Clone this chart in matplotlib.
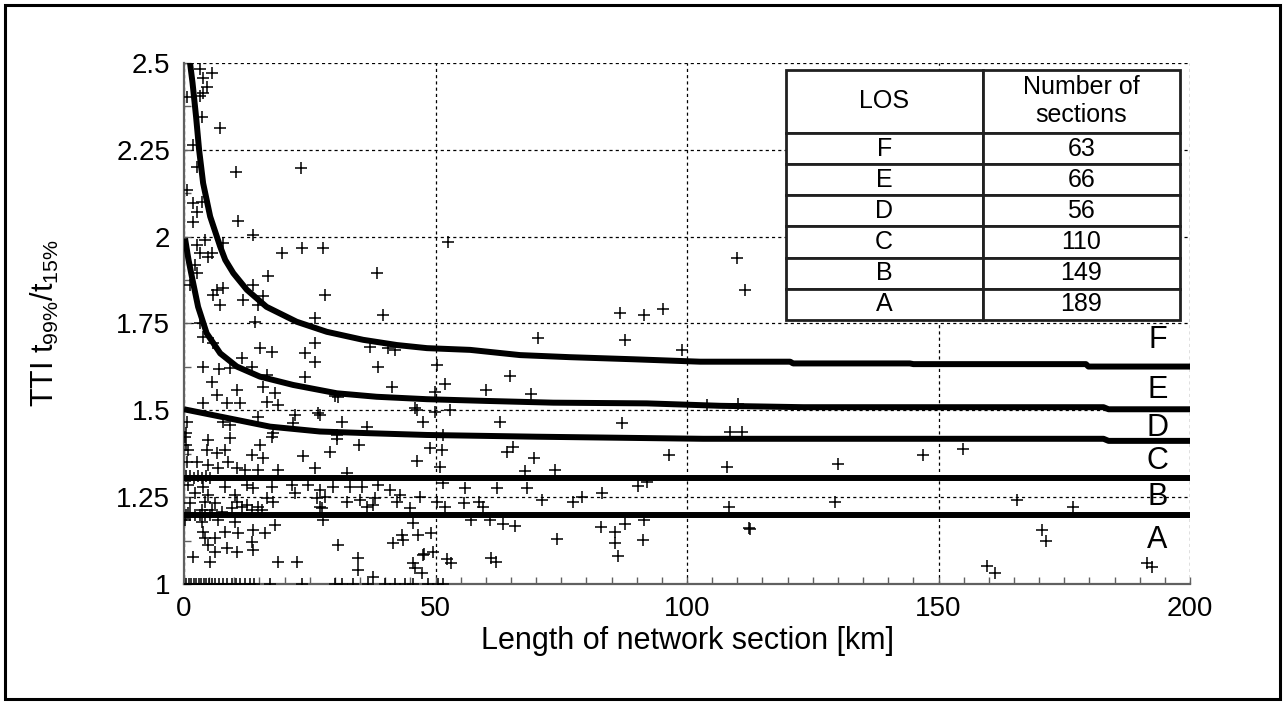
import matplotlib
matplotlib.use("Agg")
import matplotlib.pyplot as plt
from matplotlib.ticker import MultipleLocator
from matplotlib.patches import Rectangle

plt.rcParams["font.family"] = ["Liberation Sans", "DejaVu Sans"]
plt.rcParams["mathtext.fontset"] = "custom"
plt.rcParams["mathtext.rm"] = "Liberation Sans"
plt.rcParams["mathtext.it"] = "Liberation Sans"

# section length [km] / TTI of each network section
sec_len = [
    # upper left part
    3.2, 5.6, 3.8, 4.6, 3.8, 3.2, 0.6, 3.6, 7.2, 1.8, 2.6, 10.3, 23.3, 0.6, 1.8,
    3.6, 2.6, 1.8, 10.7, 13.7, 4.2, 2.6, 3.2, 4.8, 5.6, 7.8, 19.5, 23.5, 27.6,
    38.4, 52.5, 16.7, 2.2, 2.6, 1.2, 13.7, 6.6, 7.8, 5.8, 15.7, 28.0, 7.2, 11.7,
    14.7, 26.0, 39.6, 14.1, 3.2, 3.8, 5.8, 15.1, 17.5, 24.1, 26.0, 37.0, 40.6,
    41.9, 38.6, 26.0, 3.8, 7.0, 9.1, 11.5, 13.5, 16.5, 24.1, 5.6, 15.7, 10.5,
    41.4, 6.6, 18.1, 3.8, 8.5, 11.1, 16.5, 18.7, 22.1, 26.6, 31.4, 36.4, 46.3,
    47.5, 0.6, 7.8, 9.1, 14.7, 17.7, 21.7, 50.3, 49.9, 51.9, 30.0, 30.6, 45.9,
    49.9, 52.9, 27.0, 30.4, 51.5,
    # 45 - 100 km
    86.7, 91.5, 95.2, 70.4, 87.7, 99.0, 64.8, 60.0, 69.0, 62.8, 87.1, 48.9, 51.3,
    64.2, 65.4, 69.6, 50.9, 67.8, 73.8, 96.4, 62.2, 55.9, 68.2, 90.3, 51.5, 58.6,
    55.7, 59.4, 71.2, 77.3, 79.1, 83.1, 92.0, 49.1, 57.1, 60.8, 63.4, 65.8, 74.2,
    82.9, 85.7, 87.7, 91.5, 85.7, 86.3, 91.3, 47.7, 49.5, 52.3, 53.1, 61.0, 62.0,
    # beyond 100 km
    109.9, 111.5, 104.0, 110.1, 108.5, 110.9, 108.0, 130.0, 146.9, 154.9, 108.3,
    129.4, 165.6, 176.7, 112.3, 112.6, 170.6, 171.4, 159.6, 161.2, 191.5, 192.4,
    # 25 - 55 km, lower part
    30.4, 34.8, 29.0, 46.3, 32.4, 29.6, 33.0, 35.4, 38.6, 41.0, 42.9, 46.9, 28.0,
    32.4, 35.0, 38.0, 42.3, 44.9, 50.3, 51.9, 27.0, 36.4, 37.6, 27.6, 45.5, 43.3,
    46.5, 41.6, 43.5, 30.6, 47.5, 34.6, 34.6, 45.5, 45.9, 47.3, 37.6,
    # 0 - 30 km, lower part
    0.2, 4.8, 9.1, 15.1, 17.5, 0.8, 4.6, 6.6, 8.2, 13.5, 15.7, 23.7, 0.6, 2.6,
    4.8, 6.8, 8.7, 10.5, 12.1, 14.7, 18.7, 26.0, 0.4, 1.2, 2.0, 2.8, 3.6, 4.4,
    5.2, 0.8, 3.8, 8.2, 12.5, 13.7, 17.5, 21.5, 24.7, 27.0, 2.2, 4.8, 10.1, 16.5,
    22.1, 26.4, 1.2, 4.2, 6.2, 10.5, 12.5, 14.7, 17.7, 0.8, 3.6, 5.6, 7.6, 9.5,
    11.5, 13.5, 15.5, 27.4, 0.4, 1.2, 2.2, 3.2, 4.2, 5.2, 0.2, 3.6, 6.8, 10.1,
    18.1, 3.8, 8.2, 10.7, 13.7, 16.1, 4.2, 6.2, 4.8, 8.5, 10.5, 13.7, 13.5, 6.2,
    1.8, 5.2, 18.7, 22.5, 0.4, 0.4,
    # TTI = 1
    0.4, 0.9, 1.4, 1.9, 2.4, 2.9, 3.4, 3.9, 4.4, 5.0, 5.6, 6.2, 7.0, 7.8, 8.6,
    9.5, 10.4, 11.2, 12.2, 13.2, 14.0, 17.0, 23.5, 30.0, 31.5, 33.6, 36.5, 40.0,
    42.0, 44.0, 45.5, 48.5, 50.5, 51.5,
]
tti = [
    # upper left part
    2.483, 2.471, 2.457, 2.431, 2.414, 2.405, 2.402, 2.345, 2.313, 2.264, 2.201,
    2.186, 2.198, 2.134, 2.097, 2.100, 2.071, 2.042, 2.045, 2.005, 1.990, 1.976,
    1.953, 1.942, 1.953, 1.982, 1.953, 1.967, 1.967, 1.895, 1.985, 1.887, 1.918,
    1.895, 1.861, 1.861, 1.847, 1.852, 1.832, 1.829, 1.832, 1.803, 1.818, 1.803,
    1.766, 1.775, 1.754, 1.751, 1.711, 1.694, 1.680, 1.668, 1.665, 1.694, 1.682,
    1.680, 1.674, 1.625, 1.639, 1.625, 1.619, 1.622, 1.651, 1.625, 1.602, 1.596,
    1.582, 1.567, 1.559, 1.567, 1.544, 1.550, 1.521, 1.521, 1.521, 1.524, 1.515,
    1.487, 1.492, 1.466, 1.452, 1.501, 1.466, 1.466, 1.466, 1.458, 1.481, 1.435,
    1.464, 1.631, 1.553, 1.576, 1.541, 1.538, 1.507, 1.495, 1.501, 1.487, 1.429,
    1.429,
    # 45 - 100 km
    1.780, 1.775, 1.792, 1.708, 1.703, 1.674, 1.599, 1.559, 1.547, 1.466, 1.464,
    1.392, 1.386, 1.380, 1.394, 1.363, 1.337, 1.325, 1.328, 1.371, 1.276, 1.276,
    1.276, 1.282, 1.291, 1.236, 1.233, 1.222, 1.242, 1.236, 1.250, 1.262, 1.294,
    1.147, 1.184, 1.184, 1.173, 1.167, 1.130, 1.164, 1.150, 1.173, 1.184, 1.118,
    1.081, 1.127, 1.086, 1.092, 1.072, 1.060, 1.075, 1.063,
    # beyond 100 km
    1.939, 1.847, 1.515, 1.518, 1.438, 1.438, 1.337, 1.346, 1.371, 1.389, 1.222,
    1.236, 1.242, 1.222, 1.161, 1.158, 1.155, 1.124, 1.052, 1.032, 1.060, 1.049,
    # 25 - 55 km, lower part
    1.418, 1.400, 1.380, 1.354, 1.320, 1.279, 1.279, 1.279, 1.285, 1.271, 1.256,
    1.250, 1.250, 1.236, 1.242, 1.248, 1.236, 1.219, 1.236, 1.222, 1.222, 1.222,
    1.227, 1.184, 1.176, 1.141, 1.141, 1.118, 1.127, 1.112, 1.084, 1.075, 1.040,
    1.060, 1.046, 1.032, 1.020,
    # 0 - 30 km, lower part
    1.423, 1.415, 1.420, 1.400, 1.423, 1.386, 1.386, 1.377, 1.386, 1.371, 1.363,
    1.369, 1.351, 1.351, 1.343, 1.334, 1.351, 1.334, 1.328, 1.328, 1.328, 1.334,
    1.310, 1.310, 1.305, 1.310, 1.305, 1.310, 1.305, 1.285, 1.279, 1.279, 1.285,
    1.276, 1.279, 1.285, 1.285, 1.271, 1.262, 1.256, 1.256, 1.248, 1.262, 1.248,
    1.233, 1.236, 1.233, 1.236, 1.227, 1.222, 1.236, 1.204, 1.213, 1.213, 1.207,
    1.219, 1.222, 1.213, 1.213, 1.219, 1.200, 1.200, 1.200, 1.200, 1.200, 1.200,
    1.184, 1.179, 1.184, 1.179, 1.170, 1.150, 1.150, 1.147, 1.155, 1.147, 1.132,
    1.132, 1.112, 1.104, 1.092, 1.098, 1.121, 1.092, 1.078, 1.063, 1.063, 1.063,
    1.435, 1.400,
    # TTI = 1
    1.0, 1.0, 1.0, 1.0, 1.0, 1.0, 1.0, 1.0, 1.0, 1.0, 1.0, 1.0, 1.0, 1.0, 1.0,
    1.0, 1.0, 1.0, 1.0, 1.0, 1.0, 1.0, 1.0, 1.0, 1.0, 1.0, 1.0, 1.0, 1.0, 1.0,
    1.0, 1.0, 1.0, 1.0,
]

# LOS threshold curves
f_len = [1.0, 1.2, 1.7, 2.4, 3.0, 3.8, 5.2, 7.2, 8.2, 9.8, 12.5, 16.4, 22.4,
         28.4, 35.6, 42.3, 48.3, 56.9, 66.8, 76.7, 89.3, 102.6, 120.5, 121.1,
         144.3, 145.0, 179.3, 179.8, 200.0]
f_tti = [2.56, 2.50, 2.442, 2.345, 2.25, 2.154, 2.058, 1.971, 1.933, 1.895,
         1.847, 1.798, 1.755, 1.726, 1.703, 1.688, 1.679, 1.674, 1.659, 1.653,
         1.647, 1.640, 1.640, 1.635, 1.635, 1.633, 1.633, 1.626, 1.626]
e_len = [0.2, 0.9, 1.7, 2.8, 4.5, 7.2, 10.5, 15.1, 21.7, 30.4, 38.3, 48.3,
         60.2, 73.4, 92.0, 106.6, 123.1, 182.8, 183.8, 200.0]
e_tti = [1.995, 1.933, 1.875, 1.798, 1.722, 1.664, 1.626, 1.597, 1.573, 1.549,
         1.539, 1.532, 1.527, 1.522, 1.520, 1.513, 1.509, 1.509, 1.503, 1.503]
d_len = [0.0, 7.2, 17.1, 27.0, 37.0, 48.3, 70.1, 103.2, 182.8, 183.8, 200.0]
d_tti = [1.503, 1.482, 1.453, 1.439, 1.434, 1.429, 1.424, 1.418, 1.418, 1.412,
         1.412]
c_len = [0.0, 200.0]
c_tti = [1.305, 1.305]
a_len = [0.0, 200.0]
a_tti = [1.20, 1.20]

# class labels at the right edge
band_names = ["F", "E", "D", "C", "B", "A"]
band_x = [193.5, 193.5, 193.5, 193.5, 193.5, 193.5]
band_y = [1.703, 1.559, 1.449, 1.354, 1.250, 1.127]

# table
los_classes = ["F", "E", "D", "C", "B", "A"]
n_sections = [63, 66, 56, 110, 149, 189]

x_ticks = [0, 50, 100, 150, 200]
y_ticks = [1, 1.25, 1.5, 1.75, 2, 2.25, 2.5]
y_ticklabels = ["1", "1.25", "1.5", "1.75", "2", "2.25", "2.5"]

fig = plt.figure(figsize=(12.85, 7.04), dpi=100)
ax = fig.add_axes([0.1432, 0.1705, 0.7829, 0.74])

for xs, ys in [(f_len, f_tti), (e_len, e_tti), (d_len, d_tti),
               (c_len, c_tti), (a_len, a_tti)]:
    ax.plot(xs, ys, color="black", lw=4.3, solid_capstyle="butt", zorder=3)
ax.plot(sec_len, tti, "k+", ms=9, mew=1.1, zorder=4)

for name, bx, by in zip(band_names, band_x, band_y):
    ax.text(bx, by, name, fontsize=22, ha="center", va="center", zorder=6)

ax.set_xlim(0, 200)
ax.set_ylim(1, 2.5)
ax.set_xticks(x_ticks)
ax.set_yticks(y_ticks)
ax.set_yticklabels(y_ticklabels)
ax.xaxis.set_minor_locator(MultipleLocator(5))
ax.yaxis.set_minor_locator(MultipleLocator(0.125))
ax.tick_params(which="both", direction="in", length=5, width=1,
               color="#606060", labelsize=20)
ax.tick_params(axis="x", pad=9)
ax.tick_params(axis="y", pad=10)
ax.grid(which="major", ls=(0, (2.5, 2.5)), lw=0.9, color="black")
ax.set_axisbelow(True)
for s in ["top", "right"]:
    ax.spines[s].set_visible(False)
for s in ["left", "bottom"]:
    ax.spines[s].set_color("#606060")
    ax.spines[s].set_linewidth(1.6)

ax.set_xlabel("Length of network section [km]", fontsize=22)
ax.set_ylabel("TTI t$_{99\\%}$/t$_{15\\%}$", fontsize=22)
ax.xaxis.set_label_coords(0.5, -0.08)
ax.yaxis.set_label_coords(-0.122, 0.5)

cell_text = [[c, str(n)] for c, n in zip(los_classes, n_sections)]
tab = ax.table(cellText=cell_text, colLabels=["LOS", "Number of\nsections"],
               cellLoc="center", bbox=[0.598, 0.507, 0.392, 0.48])
tab.auto_set_font_size(False)
tab.set_fontsize(18)
tab.set_zorder(10)
for (r, c), cell in tab.get_celld().items():
    cell.set_linewidth(2)
    cell.set_facecolor("white")
    cell.set_edgecolor("#202020")
    if r == 0:
        cell.set_height(cell.get_height() * 2.03)

# frame round the whole picture
fig.add_artist(Rectangle((5 / 1285, 5 / 704), 1275 / 1285, 694 / 704,
                         transform=fig.transFigure, fill=False,
                         edgecolor="black", lw=2.2))

fig.savefig("out.png", dpi=100)
